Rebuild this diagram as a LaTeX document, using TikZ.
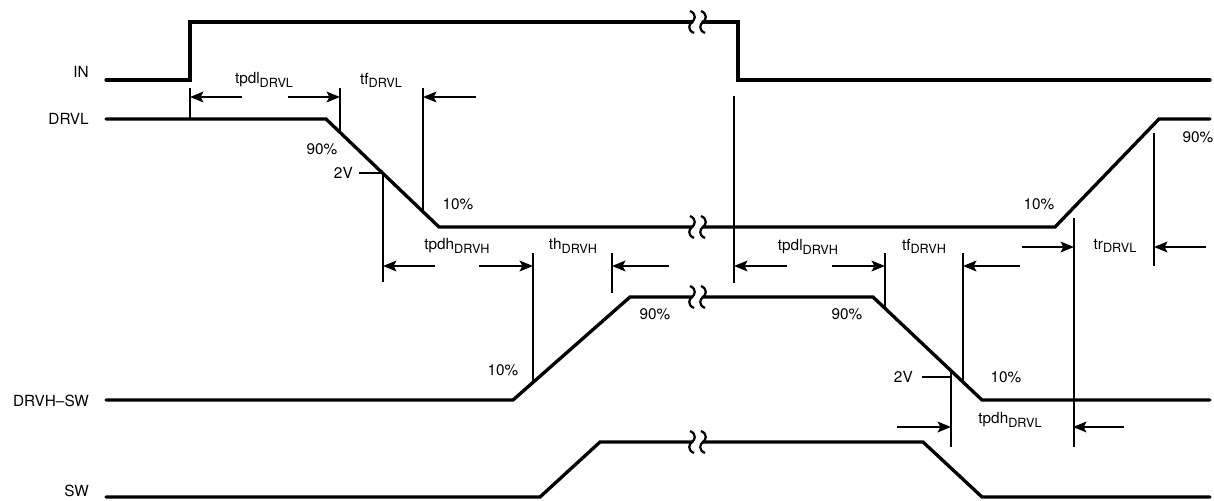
\documentclass[tikz,border=0pt]{standalone}
\usepackage{fontspec}
\setmainfont{TeX Gyre Heros}
\usetikzlibrary{arrows.meta}
\newcommand\tlab[2]{#1\raisebox{-2.4pt}{\fontsize{9.5}{10}\selectfont #2}}
\begin{document}
\begin{tikzpicture}[x=0.75pt,y=-0.75pt,
  sig/.style={line width=2.5pt, line cap=round, line join=miter},
  thin/.style={line width=1.5pt},
  dim/.style={line width=1.5pt,-{Stealth[length=10pt,width=8pt,inset=2pt]}},
  lbl/.style={font=\fontsize{11.5}{13}\selectfont, inner sep=0pt},
  squig/.pic={\draw[line width=1.7pt] (-2,-11) .. controls (5,-8) and (3,-2) .. (0,0) .. controls (-3,2) and (-5,8) .. (2,11);}]
\useasboundingbox (0,0) rectangle (1214,500);

% signal names
\node[lbl, anchor=east] (nIN) at (89,72) {IN};
\node[lbl, anchor=east] (nDRVL) at (89,119) {DRVL};
\node[lbl, anchor=east] (nDRVH) at (89,401) {DRVH–SW};
\node[lbl, anchor=east] (nSW) at (89,491) {SW};

% signals
\draw[sig] (106,80) -- (190,80) -- (190,22) -- (692,22);
\draw[sig] (703,22) -- (738,22) -- (738,80) -- (1210,80);
\draw[sig] (106,119) -- (326,119) -- (439,227) -- (692,227);
\draw[sig] (703,227) -- (1055,227) -- (1159,119) -- (1210,119);
\draw[sig] (106,400) -- (513,400) -- (630,297) -- (692,297);
\draw[sig] (703,297) -- (873,297) -- (982,400) -- (1210,400);
\draw[sig] (106,497) -- (540,497) -- (600,442) -- (692,442);
\draw[sig] (703,442) -- (923,442) -- (982,497) -- (1210,497);

% breaks
\foreach \y in {22,227,297,442}{
  \pic at (692,\y) {squig};
  \pic at (703,\y) {squig};
}

% ticks
\draw[thin] (190,88) -- (190,119);
\draw[thin] (340,88) -- (340,131);
\draw[thin] (423,88) -- (423,211);
\draw[thin] (359,173) -- (383,173) -- (383,282);
\draw[thin] (533,253) -- (533,382);
\draw[thin] (612,253) -- (612,293);
\draw[thin] (734,96) -- (734,283);
\draw[thin] (885,253) -- (885,307);
\draw[thin] (963,253) -- (963,380);
\draw[thin] (922,377) -- (951,377);
\draw[thin] (951,371) -- (951,447);
\draw[thin] (1074,218) -- (1074,447);
\draw[thin] (1154,133) -- (1154,266);

% dimension arrows
\draw[dim] (242,97) -- (190,97);
\draw[dim] (288,97) -- (340,97);
\draw[dim] (476,97) -- (423,97);
\draw[dim] (435,266) -- (383,266);
\draw[dim] (479,266) -- (533,266);
\draw[dim] (669,266) -- (612,266);
\draw[dim] (787,266) -- (734,266);
\draw[dim] (832,266) -- (885,266);
\draw[dim] (1020,266) -- (963,266);
\draw[dim] (1022,247) -- (1074,247);
\draw[dim] (1206,247) -- (1154,247);
\draw[dim] (897,427) -- (951,427);
\draw[dim] (1124,427) -- (1073,427);

% timing labels
\node[lbl] (l1) at (264,80) {\tlab{tpdl}{DRVL}};
\node[lbl] (l2) at (381,80) {\tlab{tf}{DRVL}};
\node[lbl] (l3) at (457,246) {\tlab{tpdh}{DRVH}};
\node[lbl] (l4) at (573,246) {\tlab{th}{DRVH}};
\node[lbl] (l5) at (808,247) {\tlab{tpdl}{DRVH}};
\node[lbl] (l6) at (924,246) {\tlab{tf}{DRVH}};
\node[lbl] (l7) at (1115,246) {\tlab{tr}{DRVL}};
\node[lbl] (l8) at (1010,420) {\tlab{tpdh}{DRVL}};

% level labels
\node[lbl] (p1) at (322,149) {90\%};
\node[lbl, anchor=east] (v1) at (353,173) {2V};
\node[lbl] (p2) at (458,204) {10\%};
\node[lbl] (p3) at (503,370) {10\%};
\node[lbl] (p4) at (655,314) {90\%};
\node[lbl] (p5) at (847,314) {90\%};
\node[lbl, anchor=east] (v2) at (913,377) {2V};
\node[lbl] (p6) at (1006,377) {10\%};
\node[lbl] (p7) at (1039,204) {10\%};
\node[lbl] (p8) at (1198,137) {90\%};
\end{tikzpicture}
\end{document}
